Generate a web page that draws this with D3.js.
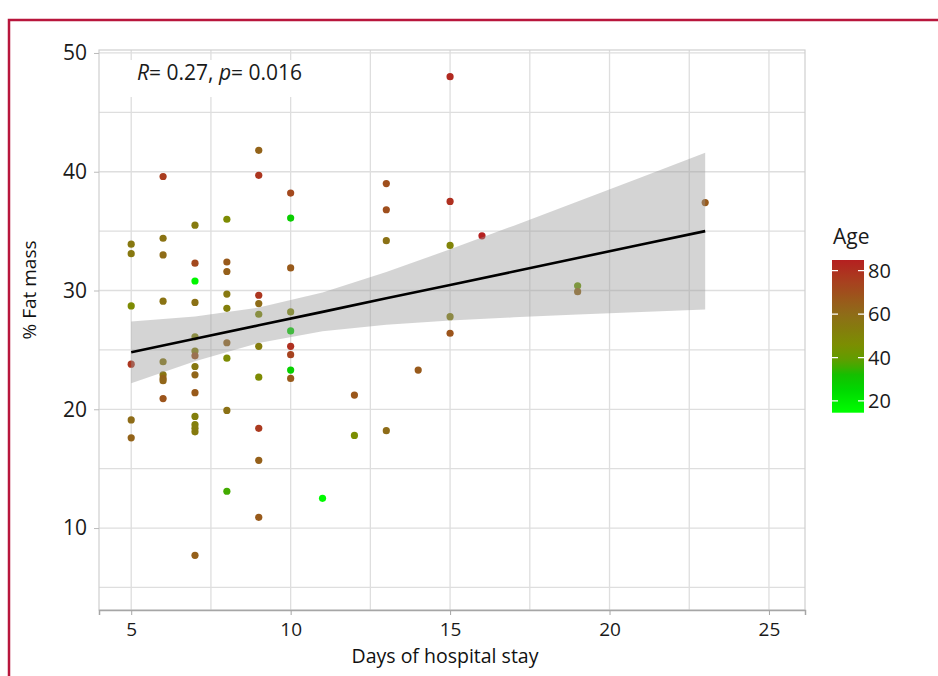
<!DOCTYPE html>
<html>
<head>
<meta charset="utf-8">
<script src="https://cdn.jsdelivr.net/npm/d3@7"></script>
<style>
  body { margin: 0; background: #fff; }
  svg { display: block; font-family: "Open Sans", "Noto Sans", sans-serif; }
</style>
</head>
<body>
<svg id="chart" width="938" height="676"></svg>
<script>
// values
const days = [
  5, 5, 5, 5, 5, 5,
  6, 6, 6, 6, 6, 6, 6, 6, 6,
  7, 7, 7, 7, 7, 7, 7, 7, 7, 7, 7, 7, 7, 7, 7,
  8, 8, 8, 8, 8, 8, 8, 8, 8,
  9, 9, 9, 9, 9, 9, 9, 9, 9, 9,
  10, 10, 10, 10, 10, 10, 10, 10, 10,
  11, 12, 12, 13, 13, 13, 13, 14,
  15, 15, 15, 15, 15, 16, 19, 19, 23
];
const fatMass = [
  33.9, 33.1, 28.7, 23.8, 19.1, 17.6,
  39.6, 34.4, 33.0, 29.1, 24.0, 22.9, 22.6, 22.4, 20.9,
  35.5, 32.3, 30.8, 29.0, 26.1, 24.9, 24.5, 23.6, 22.9, 21.4, 19.4, 18.7, 18.4, 18.1, 7.7,
  36.0, 32.4, 31.6, 29.7, 28.5, 25.6, 24.3, 19.9, 13.1,
  41.8, 39.7, 29.6, 28.9, 28.0, 25.3, 22.7, 18.4, 15.7, 10.9,
  38.2, 36.1, 31.9, 28.2, 26.6, 25.3, 24.6, 23.3, 22.6,
  12.5, 21.2, 17.8, 39.0, 36.8, 34.2, 18.2, 23.3,
  48.0, 37.5, 33.8, 27.8, 26.4, 34.6, 30.4, 29.9, 37.4
];
const age = [
  55, 55, 47, 78, 60, 63,
  76, 57, 60, 57, 55, 56, 63, 62, 68,
  54, 72, 17, 58, 50, 52, 68, 55, 62, 66, 52, 52, 53, 54, 64,
  47, 66, 64, 55, 52, 63, 47, 58, 36,
  63, 78, 78, 60, 48, 53, 47, 77, 64, 66,
  72, 28, 66, 48, 27, 80, 74, 27, 66,
  16, 67, 46, 70, 70, 58, 60, 66,
  82, 80, 50, 52, 68, 85, 42, 62, 66
];

// fitted line and its confidence band
const fitDays  = [5, 7, 9, 11, 13, 15, 17, 19, 21, 23];
const fitValue = [24.8, 25.93, 27.07, 28.2, 29.34, 30.47, 31.6, 32.74, 33.87, 35.0];
const fitLow   = [22.2, 24.04, 25.58, 26.57, 27.12, 27.47, 27.74, 27.98, 28.2, 28.4];
const fitHigh  = [27.4, 27.82, 28.56, 29.83, 31.56, 33.47, 35.46, 37.5, 39.54, 41.6];

const xTicks = [5, 10, 15, 20, 25];
const xMinor = [7.5, 12.5, 17.5, 22.5];
const yTicks = [10, 20, 30, 40, 50];
const yMinor = [5, 15, 25, 35, 45];
const ageTicks = [20, 40, 60, 80];
const ageRange = [14.6, 84.9];

// colour gradient of the Age legend
const ageStops  = [14.6, 25, 32, 38, 45, 60, 75, 84.9];
const ageColors = ["#00ff00", "#00d800", "#14c000", "#5aa000", "#7a9000", "#8e6c18", "#a8401f", "#b52020"];

const svg = d3.select("#chart"),
      margin = {top: 50, right: 133, bottom: 66, left: 99},
      width = +svg.attr("width") - margin.left - margin.right,
      height = +svg.attr("height") - margin.top - margin.bottom;

// crimson frame of the figure
svg.append("path")
   .attr("d", "M9,676V20H938")
   .attr("fill", "none")
   .attr("stroke", "#b8163c")
   .attr("stroke-width", 2.5);

const chart = svg.append("g")
                 .attr("transform", `translate(${margin.left},${margin.top})`);

const x = d3.scaleLinear().domain([3.99, 26.13]).range([0, width]);
const y = d3.scaleLinear().domain([3.1, 50.25]).range([height, 0]);
const color = d3.scaleLinear().domain(ageStops).range(ageColors).clamp(true);

// grid
const gridColor = "#dedede";
chart.selectAll(".vgrid")
     .data(xTicks.concat(xMinor))
     .enter().append("line")
     .attr("x1", d => x(d)).attr("x2", d => x(d))
     .attr("y1", 0).attr("y2", height)
     .attr("stroke", gridColor).attr("stroke-width", 1.3);
chart.selectAll(".hgrid")
     .data(yTicks.concat(yMinor))
     .enter().append("line")
     .attr("x1", 0).attr("x2", width)
     .attr("y1", d => y(d)).attr("y2", d => y(d))
     .attr("stroke", gridColor).attr("stroke-width", 1.3);

chart.append("rect")
     .attr("width", width).attr("height", height)
     .attr("fill", "none")
     .attr("stroke", "#cfcfcf").attr("stroke-width", 1.2);

// points (drawn under the band, as in the original)
chart.selectAll(".pt")
     .data(days.map((d, i) => ({d: d, f: fatMass[i], a: age[i]})))
     .enter().append("circle")
     .attr("cx", p => x(p.d))
     .attr("cy", p => y(p.f))
     .attr("r", 3.6)
     .attr("fill", p => color(p.a));

// confidence band + fit line
const fit = fitDays.map((d, i) => ({d: d, v: fitValue[i], lo: fitLow[i], hi: fitHigh[i]}));
chart.append("path")
     .datum(fit)
     .attr("d", d3.area().x(p => x(p.d)).y0(p => y(p.lo)).y1(p => y(p.hi)))
     .attr("fill", "#999999")
     .attr("fill-opacity", 0.42);
chart.append("path")
     .datum(fit)
     .attr("d", d3.line().x(p => x(p.d)).y(p => y(p.v)))
     .attr("fill", "none")
     .attr("stroke", "#000")
     .attr("stroke-width", 2.6);

// annotation
chart.append("rect")
     .attr("x", 28).attr("y", 10)
     .attr("width", 185).attr("height", 37)
     .attr("fill", "#fff");
const ann = chart.append("text")
     .attr("x", 38).attr("y", 29.5)
     .style("font-size", "21px")
     .attr("fill", "#1a1a1a");
ann.append("tspan").style("font-style", "italic").text("R");
ann.append("tspan").text("= 0.27, ");
ann.append("tspan").style("font-style", "italic").text("p");
ann.append("tspan").text("= 0.016");

// axes
const xAxis = chart.append("g")
     .attr("transform", `translate(0,${height})`)
     .call(d3.axisBottom(x).tickValues(xTicks).tickSize(5).tickPadding(8));
xAxis.select(".domain").attr("stroke", "#a6a6a6").attr("stroke-width", 1.5);
xAxis.selectAll(".tick line").attr("stroke", "#a6a6a6");
xAxis.selectAll("text").style("font-size", "19px").attr("fill", "#1a1a1a")
     .style("font-family", "'Open Sans', sans-serif");

const yAxis = chart.append("g")
     .call(d3.axisLeft(y).tickValues(yTicks).tickSize(5).tickPadding(7));
yAxis.select(".domain").remove();
yAxis.selectAll(".tick line").attr("stroke", "#bbbbbb");
yAxis.selectAll("text").style("font-size", "21px").attr("fill", "#1a1a1a")
     .style("font-family", "'Open Sans', sans-serif");

// axis titles
svg.append("text")
   .attr("x", 445).attr("y", 663)
   .attr("text-anchor", "middle")
   .style("font-size", "19.5px")
   .attr("fill", "#111")
   .text("Days of hospital stay");

svg.append("text")
   .attr("transform", "translate(36,290) rotate(-90)")
   .attr("text-anchor", "middle")
   .style("font-size", "19px")
   .attr("fill", "#111")
   .text("% Fat mass");

// Age colour bar
const legend = svg.append("g").attr("transform", "translate(832,0)");
const barTop = 260, barBottom = 412.7, barW = 32;
const ageY = d3.scaleLinear().domain(ageRange).range([barBottom, barTop]);

const grad = svg.append("defs").append("linearGradient")
     .attr("id", "ageGrad")
     .attr("x1", 0).attr("y1", 1).attr("x2", 0).attr("y2", 0);
d3.range(0, 21).forEach(i => {
  const a = ageRange[0] + (ageRange[1] - ageRange[0]) * i / 20;
  grad.append("stop")
      .attr("offset", `${i * 5}%`)
      .attr("stop-color", color(a));
});

legend.append("rect")
      .attr("x", 0).attr("y", barTop)
      .attr("width", barW).attr("height", barBottom - barTop)
      .attr("fill", "url(#ageGrad)");

legend.selectAll(".tl")
      .data(ageTicks)
      .enter().append("path")
      .attr("d", d => `M0,${ageY(d)}h6M${barW - 6},${ageY(d)}h6`)
      .attr("stroke", "#fff").attr("stroke-width", 1.3);

legend.selectAll(".lab")
      .data(ageTicks)
      .enter().append("text")
      .attr("x", barW + 4)
      .attr("y", d => ageY(d))
      .attr("dy", "0.35em")
      .style("font-size", "20px")
      .attr("fill", "#1a1a1a")
      .text(d => d);

legend.append("text")
      .attr("x", 1).attr("y", 244)
      .style("font-size", "21px")
      .attr("fill", "#1a1a1a")
      .text("Age");
</script>
</body>
</html>
